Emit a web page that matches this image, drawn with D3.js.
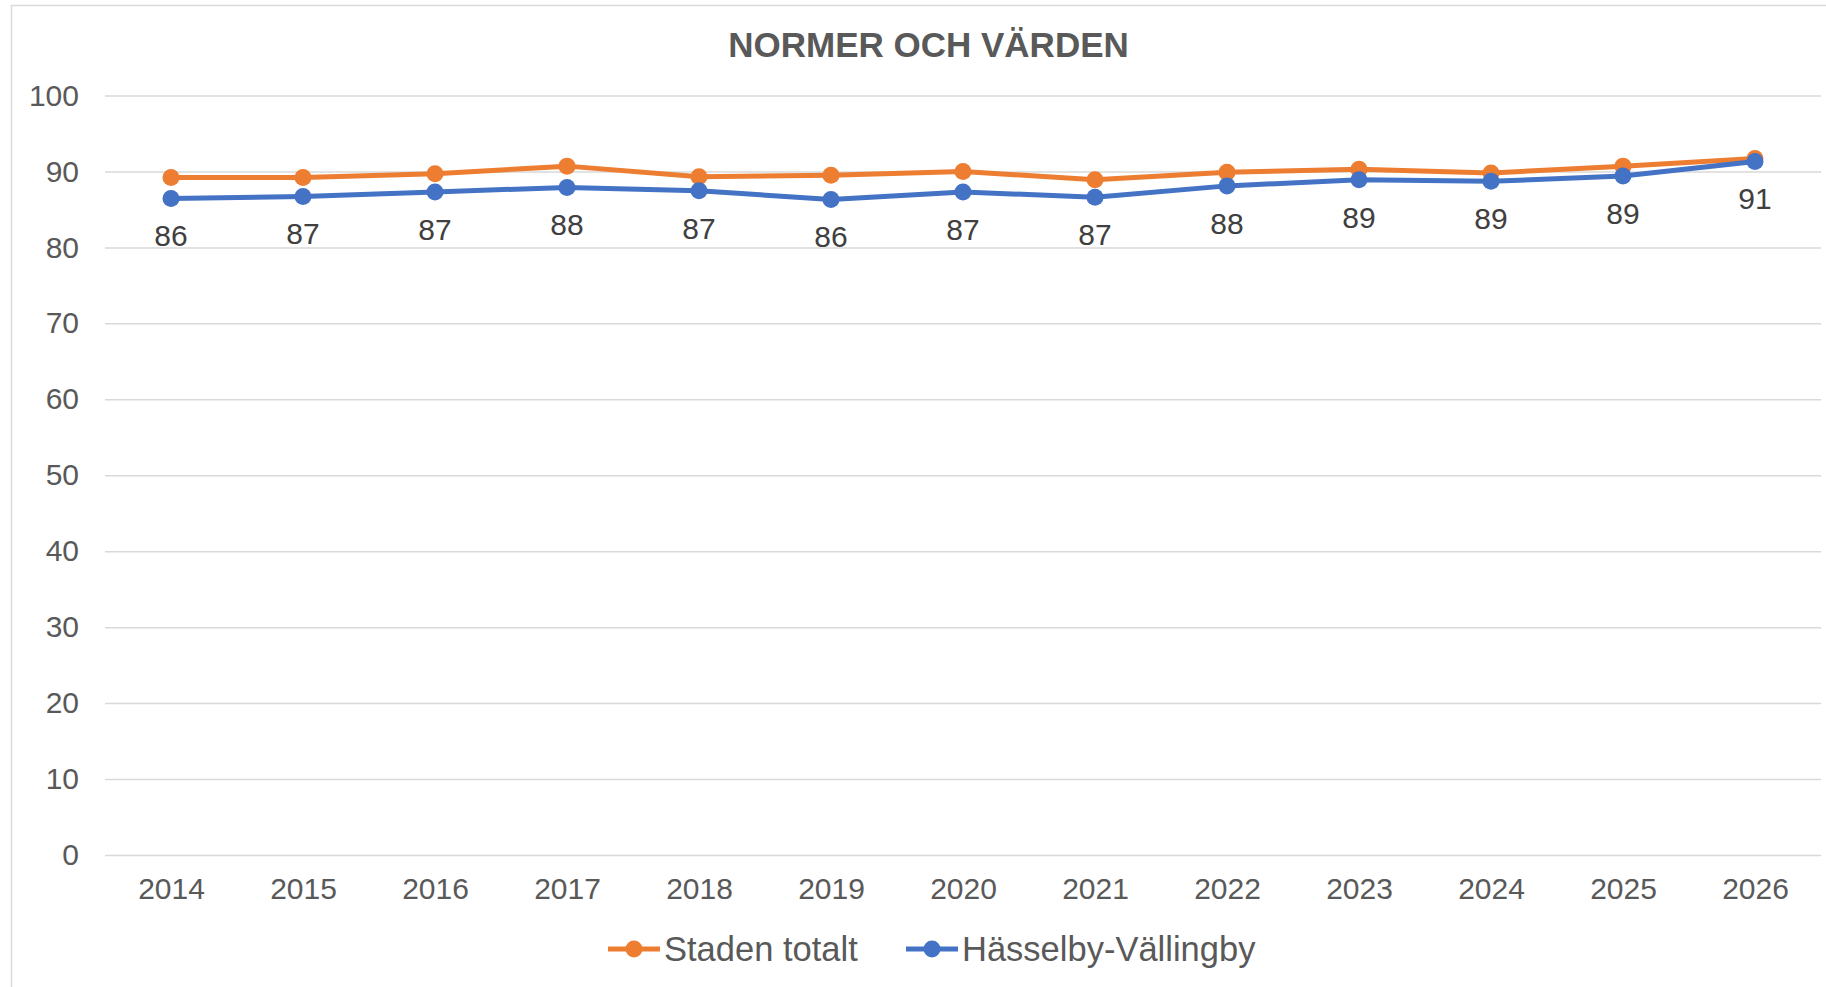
<!DOCTYPE html>
<html>
<head>
<meta charset="utf-8">
<script src="https://cdn.jsdelivr.net/npm/d3@7"></script>
<style>
  body { margin: 0; background: #fff; }
  svg { display: block; font-family: "Liberation Sans", Arial, sans-serif; }
</style>
</head>
<body>
<div id="chart"></div>
<script>
// data
var years = ["2014","2015","2016","2017","2018","2019","2020","2021","2022","2023","2024","2025","2026"];
var stadenTotalt = [89.2, 89.2, 89.7, 90.7, 89.3, 89.5, 90.0, 88.9, 89.9, 90.3, 89.8, 90.7, 91.7];
var hasselbyVallingby = [86.45, 86.7, 87.3, 87.9, 87.45, 86.3, 87.3, 86.6, 88.1, 88.9, 88.7, 89.4, 91.3];
var yTicks = [0, 10, 20, 30, 40, 50, 60, 70, 80, 90, 100];
var seriesNames = ["Staden totalt", "Hässelby-Vällingby"];
var seriesColors = ["#ED7D31", "#4472C4"];

var W = 1826, H = 987;
var margin = { top: 95.5, left: 105, right: 5, bottom: 132 };

var svg = d3.select("#chart").append("svg")
	.attr("width", W)
	.attr("height", H);

// chart frame
svg.append("rect")
	.attr("x", 11.5).attr("y", 5.5)
	.attr("width", W).attr("height", H + 20)
	.attr("fill", "#fff")
	.attr("stroke", "#d9d9d9")
	.attr("stroke-width", 1.5);

var x = d3.scalePoint()
	.domain(years)
	.range([margin.left, W - margin.right])
	.padding(0.5);

var y = d3.scaleLinear()
	.domain([0, 100])
	.range([H - margin.bottom, margin.top]);

// title
svg.append("text")
	.attr("x", 928.5).attr("y", 56.5)
	.attr("text-anchor", "middle")
	.attr("font-size", 35)
	.attr("font-weight", "bold")
	.attr("fill", "#595959")
	.text("NORMER OCH VÄRDEN");

// y axis + gridlines
var yAxis = svg.append("g")
	.attr("transform", "translate(" + margin.left + ",0)")
	.call(d3.axisLeft(y).tickValues(yTicks).tickSize(-(W - margin.right - margin.left)).tickPadding(26));
yAxis.select(".domain").remove();
yAxis.selectAll(".tick line").attr("stroke", "#d9d9d9").attr("stroke-width", 1.5);
yAxis.selectAll(".tick text").attr("font-size", 30).attr("fill", "#595959");

// x axis
var xAxis = svg.append("g")
	.attr("transform", "translate(0," + y(0) + ")")
	.call(d3.axisBottom(x).tickSize(0).tickPadding(23));
xAxis.select(".domain").remove();
xAxis.selectAll(".tick text").attr("font-size", 30).attr("fill", "#595959");

var line = d3.line()
	.x(function(d, i) { return x(years[i]); })
	.y(function(d) { return y(d); });

var allSeries = [stadenTotalt, hasselbyVallingby];
allSeries.forEach(function(vals, s) {
	svg.append("path")
		.datum(vals)
		.attr("d", line)
		.attr("fill", "none")
		.attr("stroke", seriesColors[s])
		.attr("stroke-width", 5)
		.attr("stroke-linejoin", "round");
	svg.selectAll(".dot" + s)
		.data(vals)
		.enter().append("circle")
		.attr("class", "dot" + s)
		.attr("cx", function(d, i) { return x(years[i]); })
		.attr("cy", function(d) { return y(d); })
		.attr("r", 8.5)
		.attr("fill", seriesColors[s]);
});

// data labels under the blue series
svg.selectAll(".lbl")
	.data(hasselbyVallingby)
	.enter().append("text")
	.attr("class", "lbl")
	.attr("x", function(d, i) { return x(years[i]); })
	.attr("y", function(d) { return y(d) + 37; })
	.attr("dy", "0.36em")
	.attr("text-anchor", "middle")
	.attr("font-size", 30)
	.attr("fill", "#404040")
	.text(function(d) { return d3.format(".0f")(d); });

// legend
var legendX = [608, 906];
var legend = svg.selectAll(".legend")
	.data(seriesNames)
	.enter().append("g")
	.attr("class", "legend")
	.attr("transform", function(d, i) { return "translate(" + legendX[i] + ",949)"; });
legend.append("line")
	.attr("x1", 0).attr("x2", 52)
	.attr("stroke", function(d, i) { return seriesColors[i]; })
	.attr("stroke-width", 5);
legend.append("circle")
	.attr("cx", 26).attr("r", 8.5)
	.attr("fill", function(d, i) { return seriesColors[i]; });
legend.append("text")
	.attr("x", 56)
	.attr("dy", "0.36em")
	.attr("font-size", 34.5)
	.attr("fill", "#595959")
	.text(function(d) { return d; });
</script>
</body>
</html>
